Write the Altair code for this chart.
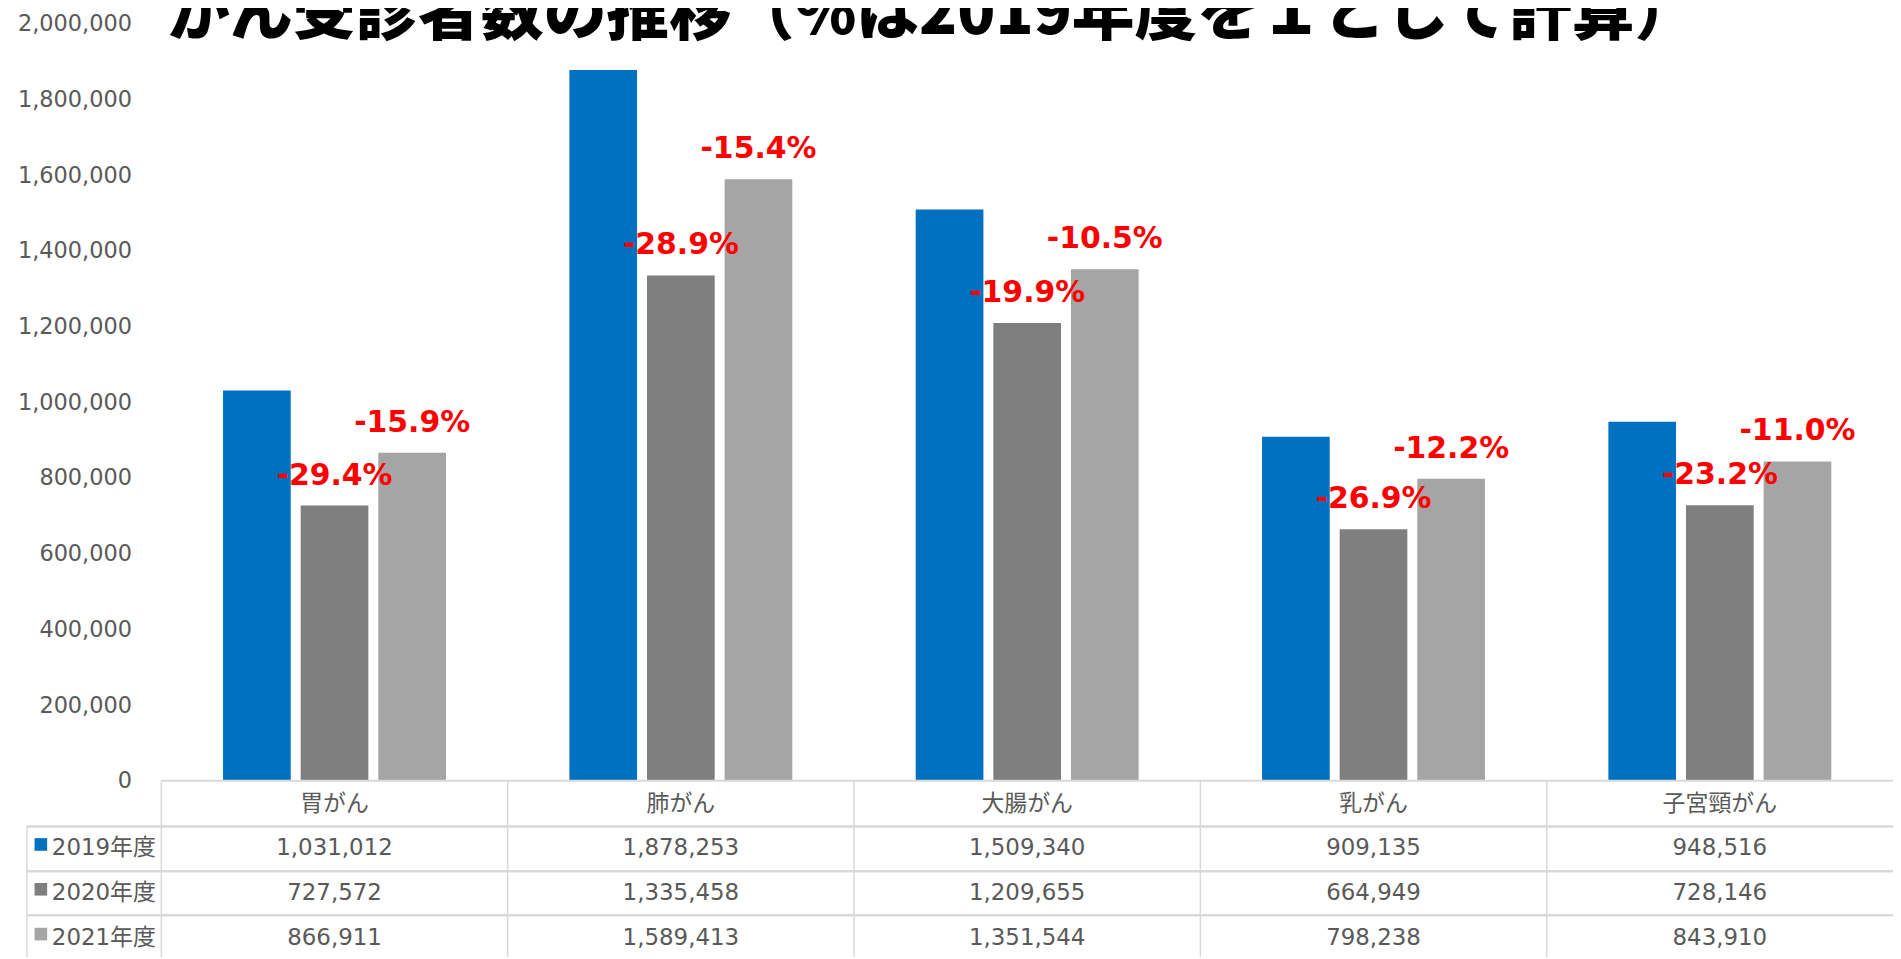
import altair as alt
import pandas as pd

categories = ["胃がん", "肺がん", "大腸がん", "乳がん", "子宮頸がん"]
years = ["2019年度", "2020年度", "2021年度"]
v2019 = [1031012, 1878253, 1509340, 909135, 948516]
v2020 = [727572, 1335458, 1209655, 664949, 728146]
v2021 = [866911, 1589413, 1351544, 798238, 843910]
pct2020 = ["-29.4%", "-28.9%", "-19.9%", "-26.9%", "-23.2%"]
pct2021 = ["-15.9%", "-15.4%", "-10.5%", "-12.2%", "-11.0%"]
y_ticks = [0, 200000, 400000, 600000, 800000, 1000000, 1200000, 1400000, 1600000, 1800000, 2000000]
title_text = "がん受診者数の推移（%は2019年度を１として計算）"

colors = ["#0070C0", "#7F7F7F", "#A5A5A5"]

rows = []
for yr, vals, pcts in [(years[0], v2019, [""] * 5), (years[1], v2020, pct2020), (years[2], v2021, pct2021)]:
    for c, v, p in zip(categories, vals, pcts):
        rows.append({"category": c, "year": yr, "value": v, "pct": p})
df = pd.DataFrame(rows)
cat_df = pd.DataFrame({"category": categories})
one = pd.DataFrame({"k": [0]})

W, H = 1739, 760
BOTTOM = 937
GRID = "#D9D9D9"
TXT = "#595959"
TFONT = "DejaVu Sans, Noto Sans CJK JP"
TSIZE = 23

x_enc = alt.X("category:N", sort=categories,
              scale=alt.Scale(paddingInner=0, paddingOuter=0), axis=None)
xoff_enc = alt.XOffset("year:N", sort=years,
                       scale=alt.Scale(domain=years, paddingInner=0.128, paddingOuter=0.795))

bars = alt.Chart(df).mark_bar().encode(
    x=x_enc,
    xOffset=xoff_enc,
    y=alt.Y("value:Q",
            scale=alt.Scale(domain=[0, 2000000], nice=False, zero=True),
            axis=alt.Axis(values=y_ticks, format=",d", grid=False, domain=False, ticks=False,
                          labelPadding=30, labelFontSize=22.5, labelColor=TXT,
                          labelFont="DejaVu Sans", title=None)),
    color=alt.Color("year:N", scale=alt.Scale(domain=years, range=colors), legend=None),
)

labels = alt.Chart(df).transform_filter(alt.datum.pct != "").mark_text(
    dy=-30, baseline="middle", align="center", fontSize=30, fontWeight="bold",
    color="#FF0000", font="DejaVu Sans"
).encode(
    x=x_enc, xOffset=xoff_enc,
    y=alt.Y("value:Q"),
    text="pct:N",
)

title = alt.Chart(one).mark_text(
    align="left", baseline="alphabetic", fontSize=63, fontWeight=900,
    font="Noto Sans CJK JP", color="#000000", text=title_text
).encode(x=alt.value(6), y=alt.value(10))

# table lines
vlines = alt.Chart(cat_df).mark_rule(color=GRID, strokeWidth=1.5).encode(
    x=alt.X("category:N", sort=categories, bandPosition=0),
    y=alt.value(H), y2=alt.value(BOTTOM),
)
top_line = alt.Chart(one).mark_rule(color=GRID, strokeWidth=2).encode(
    x=alt.value(0), x2=alt.value(W), y=alt.value(H))
left_line = alt.Chart(one).mark_rule(color=GRID, strokeWidth=1.5).encode(
    x=alt.value(-135), y=alt.value(806), y2=alt.value(BOTTOM))
hlines = [
    alt.Chart(one).mark_rule(color=GRID, strokeWidth=2.5).encode(
        x=alt.value(-135), x2=alt.value(W), y=alt.value(yy))
    for yy in [806, 851, 895]
]

header = alt.Chart(cat_df).mark_text(
    fontSize=TSIZE, font=TFONT, color=TXT, baseline="middle"
).encode(x=alt.X("category:N", sort=categories), y=alt.value(783), text="category:N")

row_y = {years[0]: 828, years[1]: 873, years[2]: 918}
row_layers = []
for i, yr in enumerate(years):
    yy = row_y[yr]
    row_layers.append(
        alt.Chart(df).transform_filter(alt.datum.year == yr).mark_text(
            fontSize=TSIZE, font=TFONT, color=TXT, baseline="middle"
        ).encode(x=alt.X("category:N", sort=categories), y=alt.value(yy),
                 text=alt.Text("value:Q", format=","))
    )
    ydf = pd.DataFrame({"year": [yr]})
    row_layers.append(
        alt.Chart(ydf).mark_text(
            fontSize=TSIZE, font=TFONT, color=TXT, baseline="middle", align="left"
        ).encode(x=alt.value(-110), y=alt.value(yy), text="year:N")
    )
    row_layers.append(
        alt.Chart(ydf).mark_point(shape="square", filled=True, size=160, opacity=1).encode(
            x=alt.value(-121), y=alt.value(yy - 4),
            color=alt.Color("year:N", scale=alt.Scale(domain=years, range=colors), legend=None))
    )

chart = alt.layer(
    bars, labels, vlines, top_line, left_line, *hlines, header, *row_layers, title
).properties(
    width=W, height=H,
    autosize=alt.AutoSizeParams(type="none"),
    padding={"left": 154, "top": 14, "right": 0, "bottom": 177},
    background="white",
).configure_view(stroke=None)

chart.save("out.html", embed_options={"renderer": "svg", "actions": False})
